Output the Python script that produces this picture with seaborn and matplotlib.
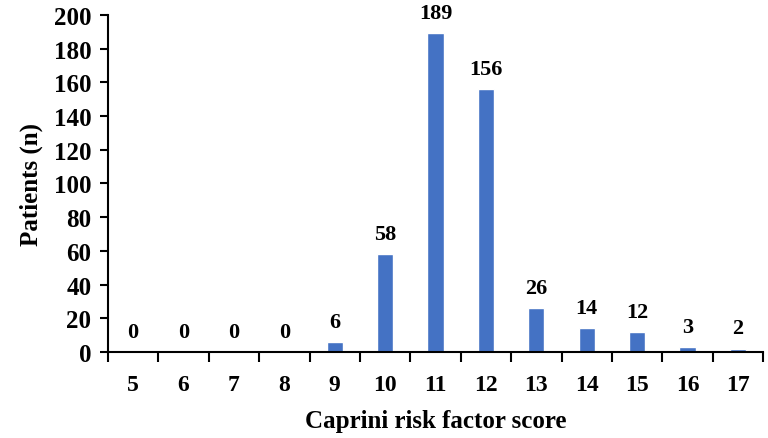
import matplotlib
matplotlib.use("Agg")
import matplotlib.pyplot as plt
import seaborn as sns
import pandas as pd
import numpy as np

scores = [5, 6, 7, 8, 9, 10, 11, 12, 13, 14, 15, 16, 17]
patients = [0, 0, 0, 0, 6, 58, 189, 156, 26, 14, 12, 3, 2]

df = pd.DataFrame({"score": [str(s) for s in scores], "patients": patients})

sns.set_style("white")
plt.rcParams['font.family'] = ['Liberation Serif', 'DejaVu Serif']
plt.rcParams['font.weight'] = 'bold'
plt.rcParams['text.color'] = 'black'
plt.rcParams['axes.labelcolor'] = 'black'
plt.rcParams['xtick.color'] = 'black'
plt.rcParams['ytick.color'] = 'black'

fig = plt.figure(figsize=(7.68, 4.39), dpi=100)
ax = fig.add_axes([0.1406, 0.196, 0.853, 0.768])

sns.barplot(data=df, x="score", y="patients", color="#4472C4", width=0.32,
            saturation=1, ax=ax)

for i, v in enumerate(patients):
    ax.text(i, v + 6, str(v), ha="center", va="bottom", fontsize=16,
            fontweight="bold", color="black")

ax.set_ylim(0, 200)
ax.set_xlim(-0.5, len(scores) - 0.5)
ax.set_yticks(np.arange(0, 201, 20))
ax.tick_params(axis="y", labelsize=18, length=6, width=1.5, direction="out", left=True, pad=6)
ax.tick_params(axis="x", which="major", labelsize=17, length=0, pad=16)
ax.set_xticks(np.arange(-0.5, len(scores), 1), minor=True)
ax.tick_params(axis="x", which="minor", length=7, width=1.5, direction="out", bottom=True)
for lbl in ax.get_xticklabels() + ax.get_yticklabels():
    lbl.set_fontweight("bold")

for side in ["top", "right"]:
    ax.spines[side].set_visible(False)
for side in ["left", "bottom"]:
    ax.spines[side].set_color("black")
    ax.spines[side].set_linewidth(1.5)

ax.set_xlabel("Caprini risk factor score", fontsize=18, fontweight="bold", labelpad=10)
ax.set_ylabel("Patients (n)", fontsize=18, fontweight="bold", labelpad=8)

fig.savefig("out.png", dpi=100)
